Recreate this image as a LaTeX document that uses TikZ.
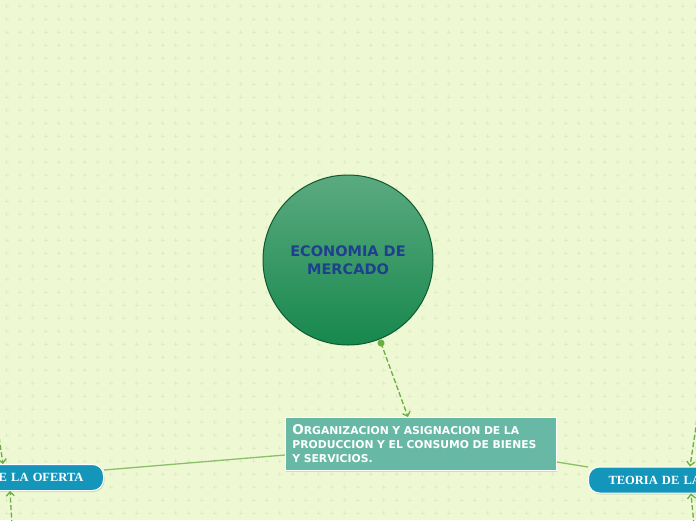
\documentclass[tikz,border=0pt]{standalone}
\usepackage{fontspec}
\setmainfont{DejaVu Sans}
\newfontfamily\titlefont{Liberation Serif}
\usetikzlibrary{calc, positioning, arrows.meta, shadows}

\definecolor{bgcol}{HTML}{EEF8D3}
\definecolor{dotcol}{HTML}{E0ECC6}
\definecolor{linkcol}{HTML}{8DBF6A}
\definecolor{dashcol}{HTML}{6AAE45}
\definecolor{navy}{HTML}{1F3F8F}
\definecolor{boxcol}{HTML}{67B8A4}
\definecolor{tabcol}{HTML}{1496BB}
\definecolor{balltop}{HTML}{5BAA80}
\definecolor{ballbot}{HTML}{17884D}
\definecolor{ballrim}{HTML}{0F5A30}

\tikzset{
  link/.style={linkcol, line width=1.3pt},
  dashlink/.style={dashcol, line width=1.3pt, dashed, dash pattern=on 5pt off 2.5pt,
    -{Straight Barb[length=4pt, width=8pt, line width=1.3pt]}},
  tab/.style={draw=white, line width=1pt, fill=tabcol, rounded corners=11pt,
    minimum height=26pt, inner xsep=20pt, text width=100pt, minimum width=140pt,
    text=white, font=\titlefont\bfseries\fontsize{12.5}{14}\selectfont,
    drop shadow={opacity=0.25, shadow xshift=1pt, shadow yshift=-1.5pt}},
}

\begin{document}
\begin{tikzpicture}[x=1pt, y=-1pt]
  \useasboundingbox (0,0) rectangle (696,520);
  \clip (0,0) rectangle (696,520);
  \fill[bgcol] (0,0) rectangle (696,520);

  % Dotted background
  \foreach \i in {0,...,53} {
    \foreach \j in {0,...,39} {
      \draw[dotcol, line width=0.8pt] ({6.5+13*\i-2},{6+13*\j}) -- ++(4,0)
        ({6.5+13*\i},{6+13*\j-2}) -- ++(0,4);
    }
  }

  % Central topic
  \node[circle, draw=ballrim, line width=1pt, minimum size=170pt,
    top color=balltop, bottom color=ballbot,
    align=center, text=navy, font=\bfseries\fontsize{14.5}{18}\selectfont]
    (mercado) at (348,260) {ECONOMIA DE\\ MERCADO};

  % Main subtopic
  \node[draw=white, line width=0.8pt, fill=boxcol, anchor=north west,
    minimum width=271pt, minimum height=53pt, inner xsep=7pt, text width=257pt, align=left,
    text=white, font=\bfseries\fontsize{10.8}{14}\selectfont,
    drop shadow={opacity=0.25, shadow xshift=1pt, shadow yshift=-1.5pt}]
    (organizacion) at (285,417)
    {\hyphenpenalty=10000{\fontsize{13.5}{14}\selectfont O}RGANIZACION Y ASIGNACION DE LA\\
     PRODUCCION Y EL CONSUMO DE BIENES\\
     Y SERVICIOS.};

  % Side tabs
  \node[tab, anchor=east, align=right] (oferta) at (104,477.5) {E LA OFERTA};
  \node[tab, anchor=west, align=left, inner xsep=17pt] (demanda) at (588,480) {TEORIA DE LA};

  % Links to the tabs
  \draw[link] (organizacion.west |- 0,455) -- (oferta.east |- 0,470);
  \draw[link] (organizacion.east |- 0,462) -- (demanda.west |- 0,467);

  % Dashed connectors
  \coordinate (start) at (381,343);
  \fill[dashcol] (start) circle (3.5pt);
  \draw[dashlink] (start) -- (organizacion.north -| 408,0);

  \coordinate (ofertatop) at (-2,430);
  \coordinate (ofertabot) at (12,525);
  \coordinate (demandatop) at (697,420);
  \coordinate (demandabot) at (694,525);
  \draw[dashlink] (ofertatop) -- (oferta.north -| 3,0);
  \draw[dashlink] (ofertabot) -- (oferta.south -| 10,0);
  \draw[dashlink] (demandatop) -- (demanda.north -| 690,0);
  \draw[dashlink] (demandabot) -- (demanda.south -| 691,0);
\end{tikzpicture}
\end{document}
